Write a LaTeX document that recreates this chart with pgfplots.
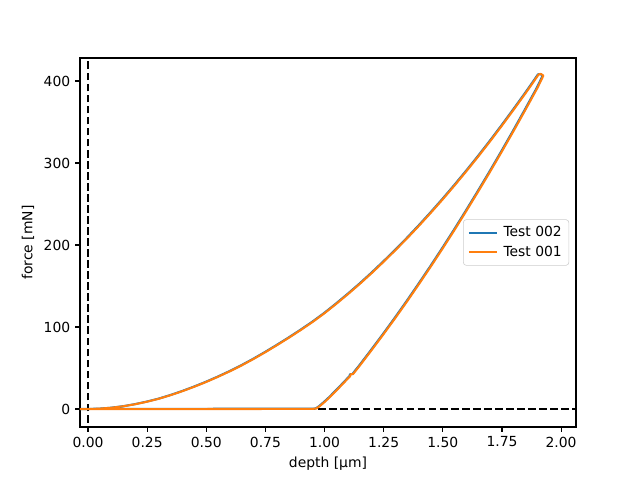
\documentclass[border=0pt]{standalone}
\usepackage{fontspec}
\setmainfont{DejaVu Sans}
\usepackage{pgfplots}
\pgfplotsset{compat=1.18}
\usepackage{pgfplotstable}

\definecolor{mplblue}{HTML}{1F77B4}
\definecolor{mplorange}{HTML}{FF7F0E}

% depth [um], force [mN]
\pgfplotstableread{
h F
-0.05 0.0
-0.003 0.0
0.047 0.4
0.097 1.5
0.147 3.3
0.197 5.8
0.247 8.9
0.297 12.5
0.347 16.9
0.397 21.8
0.447 27.2
0.497 33.0
0.547 39.3
0.597 46.0
0.647 53.2
0.697 61.0
0.747 69.3
0.797 78.0
0.847 87.0
0.897 96.4
0.947 106.2
0.997 116.8
1.047 128.3
1.097 140.3
1.147 152.8
1.197 165.9
1.247 179.6
1.297 193.8
1.347 208.4
1.397 223.7
1.447 239.5
1.497 255.8
1.547 272.7
1.597 290.1
1.647 308.0
1.697 326.5
1.747 345.6
1.797 365.2
1.847 385.2
1.877 397.5
1.902 408.0
1.912 408.5
1.922 406.5
1.897 391.6
1.847 365.3
1.797 339.5
1.747 314.2
1.697 289.5
1.647 265.4
1.597 241.8
1.547 218.6
1.497 196.1
1.447 174.1
1.397 152.7
1.347 131.7
1.297 111.3
1.247 91.5
1.197 72.2
1.147 53.3
1.117 42.4
1.108 42.4
1.105 40.0
1.077 31.5
1.047 22.5
1.017 13.8
0.997 8.5
0.977 3.5
0.962 0.6
0.947 0.3
0.497 0.2
-0.003 0.0
-0.05 0.0
}\testB

\pgfplotstableread{
h F
-0.05 -0.2
0.00 -0.2
0.05 0.4
0.10 1.5
0.15 3.3
0.20 5.8
0.25 8.9
0.30 12.5
0.35 16.9
0.40 21.8
0.45 27.2
0.50 33.0
0.55 39.3
0.60 46.0
0.65 53.2
0.70 61.0
0.75 69.3
0.80 78.0
0.85 87.0
0.90 96.4
0.95 106.2
1.00 116.8
1.05 128.3
1.10 140.3
1.15 152.8
1.20 165.9
1.25 179.6
1.30 193.8
1.35 208.4
1.40 223.7
1.45 239.5
1.50 255.8
1.55 272.7
1.60 290.1
1.65 308.0
1.70 326.5
1.75 345.6
1.80 365.2
1.85 385.2
1.88 397.5
1.905 408.0
1.915 408.5
1.925 406.5
1.90 391.6
1.85 365.3
1.80 339.5
1.75 314.2
1.70 289.5
1.65 265.4
1.60 241.8
1.55 218.6
1.50 196.1
1.45 174.1
1.40 152.7
1.35 131.7
1.30 111.3
1.25 91.5
1.20 72.2
1.15 53.3
1.12 42.4
1.111 42.4
1.108 40.0
1.08 31.5
1.05 22.5
1.02 13.8
1.00 8.5
0.98 3.5
0.965 0.6
0.95 0.1
0.50 -0.1
0.00 -0.2
-0.05 -0.2
}\testA

\begin{document}
\begin{tikzpicture}
\useasboundingbox (-57.6pt,-38.16pt) rectangle (403.2pt,307.44pt);
\begin{axis}[
    at={(0,0)}, anchor=south west,
    scale only axis,
    width=357.12pt, height=265.68pt,
    xmin=-0.034, xmax=2.063,
    ymin=-22, ymax=428,
    xtick={0,0.25,0.5,0.75,1,1.25,1.5,1.75,2},
    ytick={0,100,200,300,400},
    xticklabel style={/pgf/number format/.cd, fixed, fixed zerofill, precision=2},
    /pgf/number format/assume math mode=true,
    tick align=outside,
    xtick pos=bottom, ytick pos=left,
    major tick length=3.5pt,
    every tick/.style={black, line width=0.8pt},
    axis line style={line width=0.8pt},
    tick label style={font=\fontsize{10}{12}\selectfont},
    label style={font=\fontsize{10}{12}\selectfont},
    xlabel={depth [µm]},
    ylabel={force [mN]},
    legend style={at={(0.986,0.5)}, anchor=east, draw=black!20, rounded corners=2pt,
        font=\fontsize{10}{12}\selectfont, inner sep=3pt, row sep=1pt},
    legend cell align=left,
    legend image code/.code={\draw[#1] (0cm,0cm) -- (0.7cm,0cm); \path[draw=none] (-1pt,0cm) -- (0.7cm+3pt,0cm);},
]
\addplot[black, line width=1.5pt, dash pattern=on 5.55pt off 2.4pt, forget plot]
    coordinates {(-0.1,0) (2.2,0)};
\addplot[black, line width=1.5pt, dash pattern=on 5.55pt off 2.4pt, forget plot]
    coordinates {(0,-30) (0,440)};
\addplot[mplblue, line width=1.5pt, line join=round] table[x=h, y=F] {\testB};
\addlegendentry{Test 002}
\addplot[mplorange, line width=1.5pt, line join=round] table[x=h, y=F] {\testA};
\addlegendentry{Test 001}
\end{axis}
\end{tikzpicture}
\end{document}
